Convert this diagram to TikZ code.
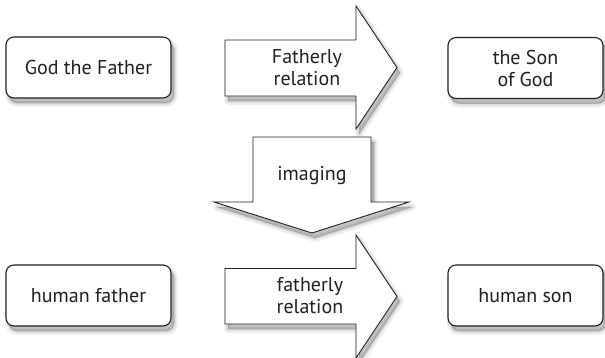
\documentclass[tikz,border=0pt]{standalone}
\usepackage{fontspec}
\setmainfont{PT Sans}
\usepackage{tikz}
\definecolor{ink}{HTML}{231F20}

% outlines of the three block arrows
\def\relarrow{(225,40) -- (356,40) -- (356,6) -- (397,67.5) -- (356,129) -- (356,96) -- (225,96) -- cycle}
\def\imgarrow{(253,137) -- (371,137) -- (371,202) -- (409,202) -- (312,233) -- (214,202) -- (253,202) -- cycle}
\def\hrelarrow{(225,268.5) -- (356,268.5) -- (356,235) -- (397,296.5) -- (356,358) -- (356,324) -- (225,324) -- cycle}

\begin{document}
\begin{tikzpicture}[x=1pt,y=-1pt,
	shadow_layer/.style={preaction={draw=black,fill=black,line join=round,transform canvas={shift={(3pt,-5pt)}},#1}},
	soft_shadow/.style={shadow_layer={opacity=0.06,line width=8pt},
		shadow_layer={opacity=0.07,line width=4pt},
		shadow_layer={opacity=0.09,line width=1pt}},
	item_box/.style={rectangle,rounded corners=8pt,draw=ink,line width=1.1pt,fill=white,
		minimum width=165pt,minimum height=61pt,align=center,text=ink,soft_shadow},
	block_arrow/.style={draw=ink,line width=0.9pt,fill=white,line join=miter},
	arrow_text/.style={align=center,text=ink,inner sep=0pt}]
	\useasboundingbox (0,0) rectangle (605,357);
	\fontsize{20}{22}\selectfont
	\node[item_box] (god) at (88.5,67.5) {God the Father};
	\node[item_box,minimum width=155pt] (son) at (525.5,68) {the Son\\of God};
	\node[item_box] (hfather) at (88.5,295.5) {human father};
	\node[item_box,minimum width=155pt] (hson) at (525.5,295.5) {human son};
	
	% shadows of the arrows
	\begin{scope}[shift={(3,5)}]
		\foreach \w/\o in {8pt/0.06,4pt/0.07,1pt/0.09}
			\filldraw[black,opacity=\o,line width=\w,line join=round] \relarrow \imgarrow \hrelarrow;
	\end{scope}
	
	\draw[block_arrow] \relarrow;
	\node[arrow_text] (rel) at (307,68) {Fatherly\\relation};
	
	\draw[block_arrow] \imgarrow;
	\node[arrow_text] (img) at (312,176) {imaging};
	
	\draw[block_arrow] \hrelarrow;
	\node[arrow_text] (hrel) at (310,296) {fatherly\\relation};
\end{tikzpicture}
\end{document}
